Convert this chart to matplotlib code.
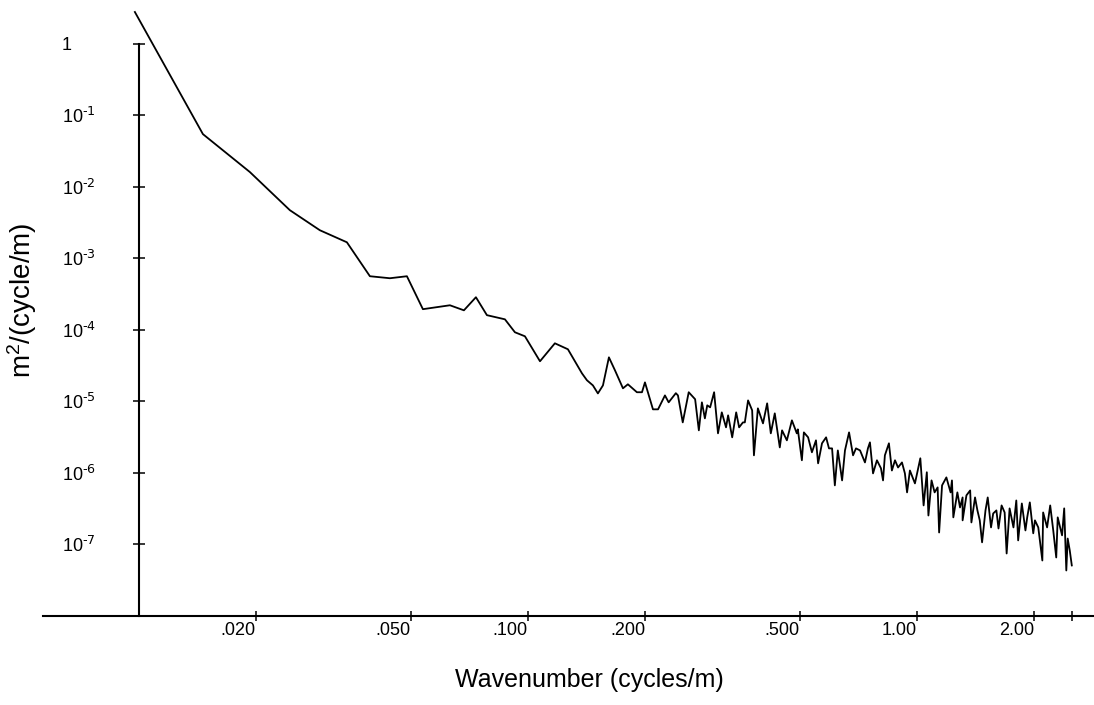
import numpy as np
import matplotlib
matplotlib.use("Agg")
import matplotlib.pyplot as plt

plt.rcParams['font.family'] = ['Liberation Sans', 'DejaVu Sans']
plt.rcParams['mathtext.default'] = 'regular'

# wavenumber (cycles/m)
wavenumber = [
    0.009766, 0.01461, 0.01929, 0.02444, 0.02919, 0.03425, 0.03925, 0.04418, 0.04886, 0.05371,
    0.06302, 0.06847, 0.07351, 0.07845, 0.08727, 0.09259, 0.09824, 0.1074, 0.1173, 0.1267,
    0.1377, 0.1418, 0.1469, 0.1513, 0.1559, 0.1615, 0.1674, 0.1755, 0.1807, 0.1906,
    0.1964, 0.1999, 0.2096,
    0.216, 0.225, 0.230, 0.240, 0.243, 0.250, 0.259, 0.269, 0.275, 0.280,
    0.285, 0.289, 0.294, 0.301, 0.308, 0.315, 0.323, 0.327, 0.335, 0.343,
    0.349, 0.357, 0.361, 0.368, 0.377, 0.381, 0.390, 0.402, 0.412, 0.421,
    0.431, 0.444, 0.450, 0.463, 0.477, 0.491, 0.494, 0.506, 0.512, 0.525,
    0.537, 0.550, 0.557, 0.570, 0.584, 0.594, 0.605, 0.615, 0.626, 0.642,
    0.653, 0.669, 0.685, 0.697, 0.714, 0.735, 0.748, 0.757, 0.771, 0.789,
    0.808, 0.818, 0.827, 0.847, 0.862, 0.878, 0.894, 0.915, 0.931, 0.943,
    0.959, 0.988, 1.02, 1.04, 1.06, 1.07, 1.09, 1.11, 1.13, 1.14,
    1.16, 1.19, 1.22, 1.23, 1.24, 1.27, 1.29, 1.31, 1.31, 1.34,
    1.37, 1.38, 1.41, 1.43, 1.45, 1.47, 1.50, 1.52, 1.55, 1.57,
    1.60, 1.62, 1.65, 1.68, 1.70, 1.73, 1.77, 1.80, 1.82, 1.86,
    1.90, 1.92, 1.95, 1.99, 2.01, 2.05, 2.10, 2.11, 2.16, 2.20,
    2.24, 2.28, 2.30, 2.36, 2.39, 2.42, 2.44, 2.47, 2.50,
]

# spectral density m^2/(cycle/m)
psd = [
    2.76, 5.42e-2, 1.60e-2, 4.69e-3, 2.46e-3, 1.67e-3, 5.60e-4, 5.25e-4, 5.60e-4, 1.94e-4,
    2.20e-4, 1.87e-4, 2.85e-4, 1.60e-4, 1.40e-4, 9.23e-5, 8.11e-5, 3.63e-5, 6.47e-5, 5.34e-5,
    2.46e-5, 1.97e-5, 1.67e-5, 1.29e-5, 1.67e-5, 4.12e-5, 2.71e-5, 1.52e-5, 1.73e-5, 1.34e-5,
    1.34e-5, 1.84e-5, 7.73e-6, 7.73e-6, 1.21e-5,
    9.68e-6, 1.30e-5, 1.21e-5, 5.08e-6, 1.34e-5, 1.07e-5, 3.93e-6, 9.68e-6, 5.78e-6, 8.79e-6,
    8.24e-6, 1.34e-5, 3.57e-6, 7.01e-6, 4.33e-6, 6.37e-6, 3.14e-6, 7.01e-6, 4.33e-6, 5.08e-6,
    5.08e-6, 1.03e-5, 7.48e-6, 1.76e-6, 7.98e-6, 4.92e-6, 9.37e-6, 3.57e-6, 6.79e-6, 2.27e-6,
    3.93e-6, 2.85e-6, 5.42e-6, 3.57e-6, 4.06e-6, 1.50e-6, 3.68e-6,
    3.14e-6, 1.94e-6, 2.85e-6, 1.36e-6, 2.59e-6, 3.14e-6, 2.2e-6, 2.2e-6, 6.69e-7, 2.06e-6,
    7.85e-7, 2.06e-6, 3.68e-6, 1.76e-6, 2.2e-6, 2.06e-6, 1.4e-6, 2.2e-6, 2.67e-6, 9.84e-7,
    1.5e-6, 1.16e-6, 7.85e-7, 1.76e-6, 2.59e-6, 1.08e-6, 1.5e-6, 1.19e-6, 1.4e-6, 9.84e-7,
    5.34e-7, 1.08e-6, 7.13e-7, 1.6e-6, 3.51e-7, 1.02e-6, 2.54e-7, 7.85e-7, 5.34e-7, 6.27e-7,
    1.47e-7, 6.69e-7, 8.65e-7, 5.34e-7, 7.85e-7, 2.39e-7, 5.34e-7, 3.29e-7, 4.54e-7, 2.17e-7,
    4.85e-7, 5.69e-7, 2.03e-7, 4.54e-7, 2.99e-7, 2.17e-7, 1.07e-7, 2.99e-7, 4.54e-7, 1.73e-7,
    2.71e-7, 2.99e-7, 1.67e-7, 3.51e-7, 2.8e-7, 7.48e-8, 3.19e-7, 1.73e-7, 4.12e-7, 1.14e-7,
    3.74e-7, 1.57e-7, 2.39e-7, 3.87e-7, 1.43e-7, 2.17e-7, 1.73e-7, 5.97e-8, 2.8e-7, 1.73e-7,
    3.51e-7, 1.57e-7, 6.58e-8, 2.39e-7, 1.34e-7, 3.19e-7, 4.33e-8, 1.21e-7, 8.24e-8, 5.09e-8,
]

yticks = [1, 1e-1, 1e-2, 1e-3, 1e-4, 1e-5, 1e-6, 1e-7]
ytick_labels = ['1', r'10$^{\text{-1}}$', r'10$^{\text{-2}}$', r'10$^{\text{-3}}$', r'10$^{\text{-4}}$',
                r'10$^{\text{-5}}$', r'10$^{\text{-6}}$', r'10$^{\text{-7}}$']
xticks = [0.02, 0.05, 0.1, 0.2, 0.5, 1, 2, 2.5]
xtick_labels = ['.020', '.050', '.100', '.200', '.500', '1.00', '2.00', '']

fig = plt.figure(figsize=(10.94, 7.05), dpi=100)
ax = fig.add_axes([43/1094, 89/705, 1051/1094, 616/705])
ax.plot(wavenumber, psd, color='black', lw=1.3)
ax.set_xscale('log')
ax.set_yscale('log')
ax.set_xlim(0.00567, 2.851)
ax.set_ylim(1e-8, 4.06)

# y axis crosses at 0.01, only drawn up to 1
ax.spines['top'].set_visible(False)
ax.spines['right'].set_visible(False)
ax.spines['left'].set_position(('data', 0.01))
ax.spines['left'].set_bounds(1e-8, 1)
for s in ax.spines.values():
    s.set_linewidth(1.5)

ax.minorticks_off()
ax.set_yticks(yticks)
ax.set_yticklabels(ytick_labels)
ax.set_xticks(xticks)
ax.set_xticklabels(xtick_labels)
ax.tick_params(axis='y', direction='inout', length=9, width=1.1, pad=51, labelsize=13)
ax.tick_params(axis='x', direction='inout', length=7, width=1.1, pad=1, labelsize=13)
for t in ax.get_yticklabels():
    t.set_ha('left')
for t in ax.get_xticklabels():
    t.set_ha('right')

fig.text(589/1094, 1 - 680/705, 'Wavenumber (cycles/m)', ha='center', va='center', fontsize=18)
fig.text(22/1094, 1 - 300/705, 'm$^2$/(cycle/m)', ha='center', va='center', rotation=90, fontsize=20)

fig.savefig("out.png")
